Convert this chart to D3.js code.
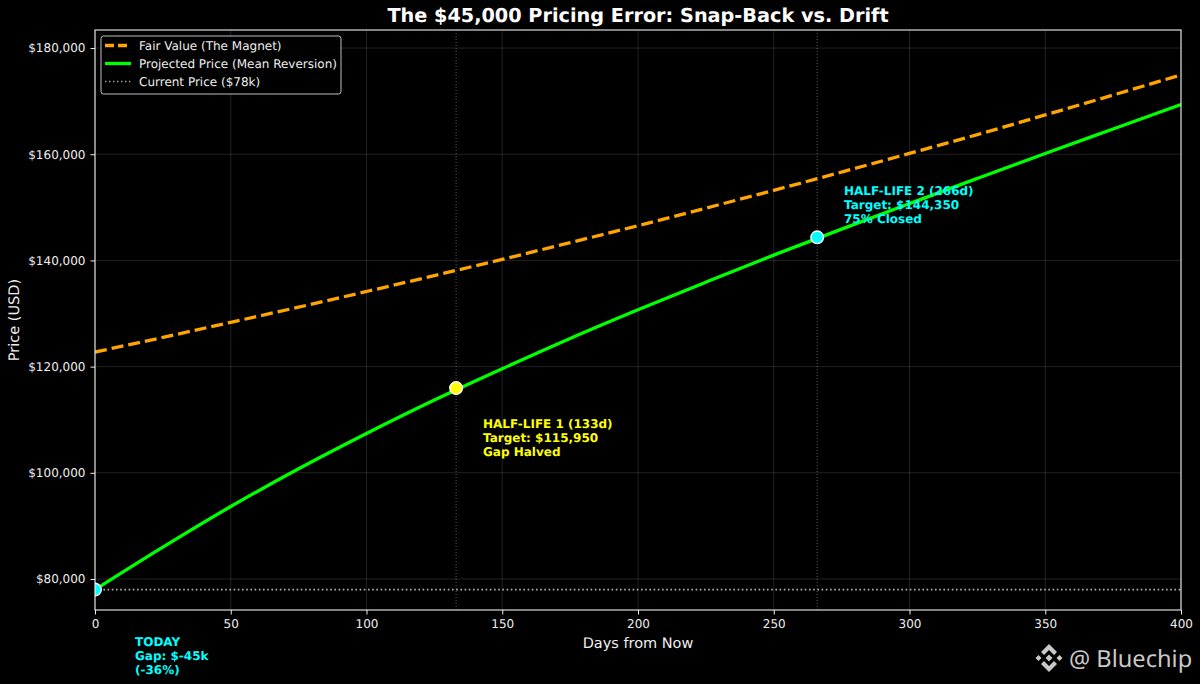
<!DOCTYPE html>
<html lang="en">
<head>
<meta charset="utf-8">
<title>The $45,000 Pricing Error</title>
<script src="https://d3js.org/d3.v7.min.js"></script>
<style>
  html,body{margin:0;padding:0;background:#000;}
  svg{display:block;}
  text{font-family:"DejaVu Sans",sans-serif;text-rendering:geometricPrecision;}
  .axis text{fill:#eee;font-size:12px;}
  .axis path,.axis line{stroke:#eee;}
  .grid line{stroke:#fff;stroke-opacity:.13;stroke-width:1px;}
</style>
</head>
<body>
<div id="chart"></div>
<script>
// values
var days = [0,25,50,75,100,125,150,175,200,225,250,275,300,325,350,375,400]
var fairValue = [122750,125500,128350,131200,134150,137150,140200,143350,146550,149850,153200,156650,160150,163700,167400,171150,174950]
var projected = [78000,86000,93650,100750,107400,113700,119600,125300,130700,135900,141000,145900,150700,155450,160150,164750,169350]
var currentPrice = 78000
var xTicks = [0,50,100,150,200,250,300,350,400]
var yTicks = [80000,100000,120000,140000,160000,180000]
var markerDays = [0,133,266]
var markerPrices = [78000,115950,144350]
var markerColors = ["#00ffff","#ffff00","#00ffff"]
var halfLifeDays = [133,266]
var legendLabels = ["Fair Value (The Magnet)","Projected Price (Mean Reversion)","Current Price ($78k)"]
var noteToday = ["TODAY","Gap: $-45k","(-36%)"]
var noteOne = ["HALF-LIFE 1 (133d)","Target: $115,950","Gap Halved"]
var noteTwo = ["HALF-LIFE 2 (266d)","Target: $144,350","75% Closed"]

var w = 1200, h = 684
var left = 95, right = 1181, top_ = 30, bottom = 610

var svg = d3.select("#chart").append("svg").attr("width",w).attr("height",h)

var xScale = d3.scaleLinear().domain([0,400]).range([left,right])
var yScale = d3.scaleLinear().domain([74160,183400]).range([bottom,top_])

svg.append("defs").append("clipPath").attr("id","plot")
  .append("rect").attr("x",left).attr("y",top_).attr("width",right-left).attr("height",bottom-top_)

// grid
var grid = svg.append("g").attr("class","grid")
grid.selectAll(".gx").data(xTicks).enter().append("line")
  .attr("x1",function(d){return xScale(d)}).attr("x2",function(d){return xScale(d)})
  .attr("y1",top_).attr("y2",bottom)
grid.selectAll(".gy").data(yTicks).enter().append("line")
  .attr("y1",function(d){return yScale(d)}).attr("y2",function(d){return yScale(d)})
  .attr("x1",left).attr("x2",right)

var plot = svg.append("g").attr("clip-path","url(#plot)")

// half-life guides
plot.selectAll(".guide").data(halfLifeDays).enter().append("line")
  .attr("x1",function(d){return xScale(d)}).attr("x2",function(d){return xScale(d)})
  .attr("y1",top_).attr("y2",bottom)
  .attr("stroke","#fff").attr("stroke-opacity",.35).attr("stroke-dasharray","1 2")

// current price
plot.append("line")
  .attr("x1",left).attr("x2",right)
  .attr("y1",yScale(currentPrice)).attr("y2",yScale(currentPrice))
  .attr("stroke","#fff").attr("stroke-opacity",.7).attr("stroke-width",1.6).attr("stroke-dasharray","1.6 2.6")

var line = d3.line().curve(d3.curveMonotoneX)
  .x(function(d){return xScale(d[0])}).y(function(d){return yScale(d[1])})

plot.append("path").attr("d",line(d3.zip(days,fairValue)))
  .attr("fill","none").attr("stroke","#ffa500").attr("stroke-width",3.3).attr("stroke-dasharray","12 5")
plot.append("path").attr("d",line(d3.zip(days,projected)))
  .attr("fill","none").attr("stroke","#00ff00").attr("stroke-width",3.3)

plot.selectAll(".marker").data(d3.zip(markerDays,markerPrices,markerColors)).enter().append("circle")
  .attr("cx",function(d){return xScale(d[0])}).attr("cy",function(d){return yScale(d[1])})
  .attr("r",6.3).attr("fill",function(d){return d[2]})
  .attr("stroke","#fff").attr("stroke-width",1.4)

// axes
var xAxis = d3.axisBottom(xScale).tickValues(xTicks).tickSize(4.5).tickPadding(5).tickFormat(d3.format("d"))
var yAxis = d3.axisLeft(yScale).tickValues(yTicks).tickSize(4.5).tickPadding(5).tickFormat(d3.format("$,"))
svg.append("g").attr("class","axis").attr("transform","translate(0,"+bottom+")").call(xAxis)
svg.append("g").attr("class","axis").attr("transform","translate("+left+",0)").call(yAxis)
svg.selectAll(".axis .domain").remove()
svg.append("rect").attr("x",left).attr("y",top_).attr("width",right-left).attr("height",bottom-top_)
  .attr("fill","none").attr("stroke","#eee").attr("stroke-width",1.1)

// titles
svg.append("text").attr("x",638).attr("y",22).attr("text-anchor","middle")
  .attr("font-size",19.25).attr("font-weight","bold").attr("fill","#fff")
  .text("The $45,000 Pricing Error: Snap-Back vs. Drift")
svg.append("text").attr("x",638).attr("y",647.5).attr("text-anchor","middle")
  .attr("font-size",14.5).attr("fill","#eee").text("Days from Now")
svg.append("text").attr("transform","translate(19,320) rotate(-90)").attr("text-anchor","middle")
  .attr("font-size",14.5).attr("fill","#eee").text("Price (USD)")

// notes
function note(lines,x,y,color){
  svg.append("g").selectAll("text").data(lines).enter().append("text")
    .attr("x",x).attr("y",function(d,i){return y+i*14})
    .attr("font-size",12).attr("font-weight","bold").attr("fill",color)
    .text(function(d){return d})
}
note(noteToday,135,645.5,"#00ffff")
note(noteOne,483,427.5,"#ffff00")
note(noteTwo,844,194.5,"#00ffff")

// legend
var legend = svg.append("g")
legend.append("rect").attr("x",101).attr("y",36).attr("width",240).attr("height",58).attr("rx",2.5)
  .attr("fill","#000").attr("fill-opacity",.8).attr("stroke","#fff").attr("stroke-opacity",.75).attr("stroke-width",1)
var legendStyles = [["#ffa500",3.3,"9 4",1],["#00ff00",3.3,null,1],["#fff",1.4,"1.4 2.6",.65]]
legendLabels.forEach(function(label,i){
  var y = 45.5+i*18
  legend.append("line").attr("x1",105).attr("x2",131).attr("y1",y).attr("y2",y)
    .attr("stroke",legendStyles[i][0]).attr("stroke-width",legendStyles[i][1])
    .attr("stroke-dasharray",legendStyles[i][2]).attr("stroke-opacity",legendStyles[i][3])
  legend.append("text").attr("x",139).attr("y",y+4.2).attr("font-size",12).attr("fill","#eee").text(label)
})

// watermark
var wm = svg.append("g").attr("transform","translate(1049,658)").attr("fill","#c9c9c9")
wm.append("path").attr("d","M0,-14 L8,-6 L5,-3 L0,-8 L-5,-3 L-8,-6 Z")
wm.append("path").attr("d","M0,14 L8,6 L5,3 L0,8 L-5,3 L-8,6 Z")
wm.append("path").attr("d","M0,-3.5 L3.5,0 L0,3.5 L-3.5,0 Z")
wm.append("path").attr("d","M-13.5,0 L-10.5,-3 L-7.5,0 L-10.5,3 Z")
wm.append("path").attr("d","M13.5,0 L10.5,-3 L7.5,0 L10.5,3 Z")
svg.append("text").attr("x",1069).attr("y",667)
  .style("font-family","'Noto Sans',sans-serif").attr("font-size",23.6).attr("fill","#c9c9c9").text("@ Bluechip")
</script>
</body>
</html>
